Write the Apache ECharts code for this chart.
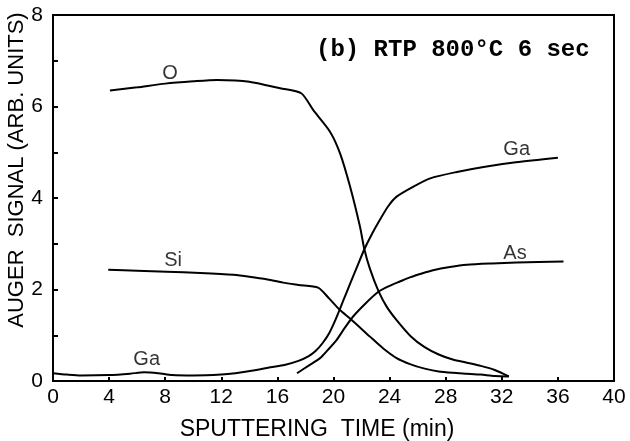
<!DOCTYPE html>
<html>
<head>
<meta charset="utf-8">
<script src="https://cdn.jsdelivr.net/npm/echarts@6/dist/echarts.min.js"></script>
<style>
  html, body { margin: 0; padding: 0; background: #fff; }
  #chart { width: 630px; height: 441px; }
</style>
</head>
<body>
<div id="chart"></div>
<script>
// Auger depth profile: signal vs. sputtering time, [minutes, signal]
const oxygen = [
  [4.06, 6.35], [6, 6.42], [8, 6.50], [10, 6.55], [11.7, 6.58], [13, 6.57],
  [14, 6.54], [15.3, 6.46], [16.2, 6.40], [17.7, 6.29], [18.56, 5.92],
  [19.75, 5.45], [20.46, 4.98], [21.18, 4.25], [21.89, 3.37], [22.2, 2.88],
  [22.6, 2.45], [23.2, 1.97], [23.8, 1.62], [24.5, 1.33], [25.5, 0.98],
  [26.5, 0.74], [27.5, 0.58], [28.5, 0.47], [29.5, 0.40], [30.5, 0.33],
  [31.5, 0.24], [32.5, 0.10]
];
const silicon = [
  [3.94, 2.43], [6, 2.41], [8.1, 2.39], [10.5, 2.36], [12.86, 2.32], [14, 2.28],
  [15.3, 2.22], [16.4, 2.15], [17.5, 2.10], [18.9, 2.04], [19.7, 1.80],
  [20.46, 1.55], [21.2, 1.36], [22.6, 0.97], [23.55, 0.71], [24.5, 0.50],
  [25.45, 0.37], [26.5, 0.27], [27.5, 0.21], [28.5, 0.18], [29.5, 0.16],
  [30.5, 0.14], [31.5, 0.11], [32.5, 0.10]
];
const gallium = [
  [0, 0.17], [1, 0.14], [2, 0.12], [4, 0.13], [5.5, 0.16], [6.5, 0.19],
  [7.5, 0.17], [8.5, 0.13], [10, 0.12], [12, 0.14], [13, 0.17], [14.5, 0.24],
  [15.5, 0.30], [16.5, 0.35], [17.5, 0.44], [18.2, 0.54], [18.7, 0.65],
  [19.2, 0.82], [19.7, 1.05], [20.2, 1.38], [20.7, 1.76], [21.2, 2.14],
  [21.7, 2.51], [22.2, 2.88], [22.75, 3.22], [23.3, 3.52], [23.9, 3.82],
  [24.5, 4.03], [25.7, 4.25], [26.9, 4.43], [28.8, 4.57], [30.7, 4.68],
  [33, 4.78], [36.0, 4.88]
];
const arsenic = [
  [17.4, 0.17], [18.2, 0.33], [19.04, 0.50], [19.6, 0.68], [20.23, 0.90],
  [20.8, 1.16], [21.4, 1.41], [22.3, 1.70], [23.2, 1.95], [24, 2.08],
  [24.7, 2.17], [25.5, 2.27], [26.3, 2.35], [27.1, 2.42], [28.3, 2.49],
  [29.5, 2.54], [31.3, 2.57], [33.06, 2.59], [36.4, 2.61]
];

// Curve name tags, anchored in data units
const curveTags = [
  { name: 'O',  at: [8.35, 6.73] },
  { name: 'Si', at: [8.56, 2.64] },
  { name: 'Ga', at: [6.68, 0.46] },
  { name: 'Ga', at: [33.06, 5.05] },
  { name: 'As', at: [32.94, 2.79] }
];

const xTitle = 'SPUTTERING  TIME (min)';
const yTitle = 'AUGER  SIGNAL (ARB. UNITS)';
const panelTitle = '(b) RTP 800°C 6 sec';

const narrow = "'Liberation Sans Narrow', 'Liberation Sans', sans-serif";
const sans = "'Liberation Sans', Arial, sans-serif";

function curve(data) {
  return {
    type: 'line',
    data: data,
    smooth: 0.25,
    symbol: 'none',
    lineStyle: { color: '#000', width: 2 },
    silent: true,
    z: 3
  };
}

const chart = echarts.init(document.getElementById('chart'), null, { renderer: 'canvas' });
chart.setOption({
  animation: false,
  backgroundColor: '#fff',
  title: {
    text: panelTitle,
    left: 311,
    top: 33,
    textStyle: { fontFamily: "'Liberation Mono', monospace", fontWeight: 'bold', fontSize: 24, color: '#000' }
  },
  grid: {
    left: 53, right: 16, top: 15, bottom: 60,
    show: true, borderColor: '#000', borderWidth: 2
  },
  xAxis: {
    type: 'value',
    min: 0, max: 40, interval: 4,
    axisLine: { lineStyle: { color: '#000', width: 2 } },
    axisTick: { inside: true, length: 4, lineStyle: { color: '#000', width: 2 } },
    axisLabel: { color: '#000', fontFamily: narrow, fontSize: 21, margin: 6 },
    splitLine: { show: false }
  },
  yAxis: {
    type: 'value',
    min: 0, max: 8, interval: 1,
    axisLine: { lineStyle: { color: '#000', width: 2 } },
    axisTick: { inside: true, length: 5, lineStyle: { color: '#000', width: 2 } },
    axisLabel: {
      color: '#000', fontFamily: narrow, fontSize: 21, margin: 10,
      formatter: v => (v % 2 === 0 ? String(v) : '')
    },
    splitLine: { show: false }
  },
  graphic: [
    {
      type: 'text', x: 317, y: 430,
      style: { text: xTitle, fontFamily: sans, fontSize: 23, fill: '#000', align: 'center', verticalAlign: 'middle' }
    },
    {
      type: 'text', x: 17, y: 170, rotation: Math.PI / 2,
      style: { text: yTitle, fontFamily: sans, fontSize: 22, fill: '#000', align: 'center', verticalAlign: 'middle' }
    }
  ],
  series: [
    curve(oxygen),
    curve(silicon),
    curve(gallium),
    curve(arsenic),
    {
      type: 'scatter',
      data: curveTags.map(t => ({ value: t.at, name: t.name })),
      symbolSize: 1,
      itemStyle: { color: 'rgba(0,0,0,0)' },
      silent: true,
      label: {
        show: true, position: 'inside', formatter: p => p.name,
        color: '#000', fontFamily: sans, fontSize: 20
      },
      z: 4
    }
  ]
});
</script>
</body>
</html>
